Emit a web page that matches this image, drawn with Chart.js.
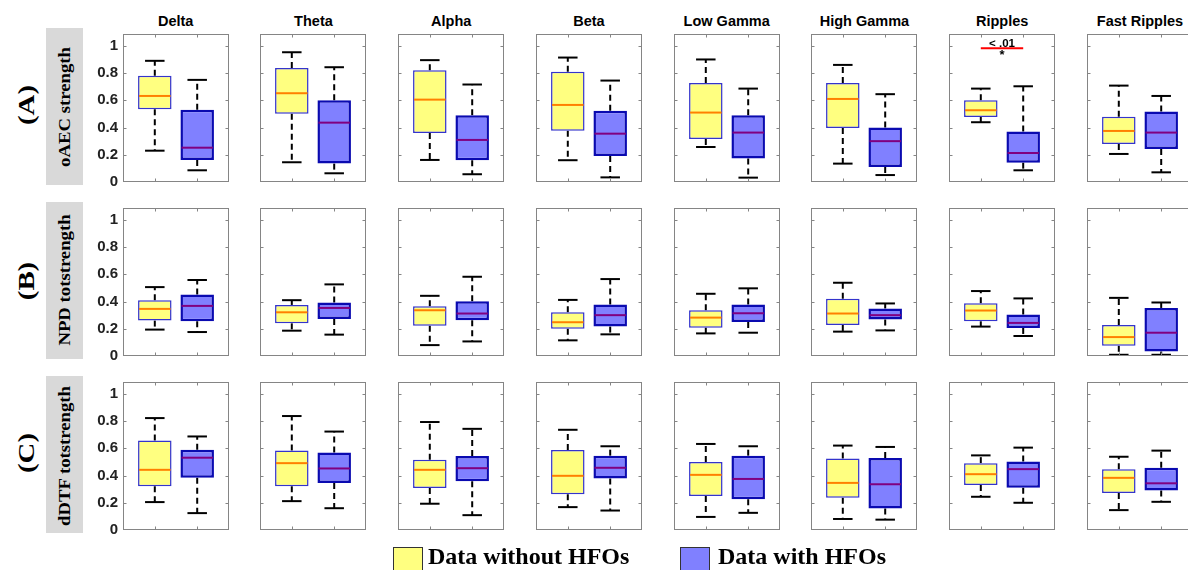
<!DOCTYPE html>
<html>
<head>
<meta charset="utf-8">
<script src="https://cdn.jsdelivr.net/npm/chart.js@4/dist/chart.umd.min.js"></script>
<style>
html,body{margin:0;padding:0;background:#fff;width:1188px;height:570px;overflow:hidden;position:relative}
canvas{position:absolute}
.title{position:absolute;font:bold 14.5px "Liberation Sans",Arial,sans-serif;color:#000;transform:translate(-50%,-50%);white-space:nowrap}
.rowbox{position:absolute;background:#d9d9d9}
.rot{position:absolute;white-space:nowrap;font-family:"Liberation Serif","Times New Roman",serif;font-weight:bold;color:#000;line-height:1.1}
.legsq{position:absolute;width:30px;height:30px;box-sizing:border-box;border:1px solid #333}
.legtx{position:absolute;font:bold 24px/24px "Liberation Serif","Times New Roman",serif;color:#000;white-space:nowrap}
</style>
</head>
<body>
<script>
// ---------------- data ----------------
const bands = ['Delta','Theta','Alpha','Beta','Low Gamma','High Gamma','Ripples','Fast Ripples'];
const measures = ['oAEC strength','NPD totstrength','dDTF totstrength'];
const rowTags = ['(A)','(B)','(C)'];
const groups = ['Data without HFOs','Data with HFOs'];
const groupX = [1, 2];
const yTicks = [0, 0.2, 0.4, 0.6, 0.8, 1];
const yTickLabels = ['0','0.2','0.4','0.6','0.8','1'];

// five-number summaries per band: [lower whisker, Q1, median, Q3, upper whisker]
const oaecWithout = [[0.23,0.534,0.632,0.78,0.89],[0.145,0.502,0.652,0.838,0.953],[0.162,0.36,0.605,0.821,0.895],[0.16,0.377,0.566,0.809,0.914],[0.257,0.316,0.51,0.728,0.90],[0.135,0.397,0.61,0.728,0.86],[0.439,0.478,0.527,0.60,0.686],[0.206,0.279,0.375,0.48,0.708]];
const oaecWith    = [[0.086,0.162,0.252,0.53,0.75],[0.064,0.135,0.436,0.60,0.843],[0.057,0.16,0.309,0.49,0.716],[0.034,0.191,0.355,0.524,0.745],[0.032,0.172,0.363,0.49,0.686],[0.051,0.11,0.30,0.40,0.645],[0.086,0.142,0.213,0.37,0.703],[0.071,0.243,0.363,0.517,0.632]];
const npdWithout  = [[0.194,0.26,0.346,0.41,0.506],[0.186,0.24,0.321,0.375,0.41],[0.08,0.223,0.336,0.366,0.442],[0.115,0.201,0.248,0.321,0.412],[0.166,0.208,0.282,0.336,0.457],[0.179,0.228,0.312,0.42,0.538],[0.216,0.255,0.334,0.388,0.477],[0.009,0.075,0.139,0.228,0.427]];
const npdWith     = [[0.176,0.255,0.368,0.452,0.558],[0.157,0.272,0.353,0.393,0.526],[0.107,0.262,0.312,0.403,0.582],[0.159,0.216,0.30,0.378,0.565],[0.171,0.25,0.314,0.378,0.497],[0.188,0.268,0.30,0.349,0.386],[0.147,0.206,0.243,0.305,0.423],[0.009,0.033,0.171,0.353,0.393]];
const ddtfWithout = [[0.205,0.321,0.442,0.657,0.822],[0.212,0.321,0.491,0.583,0.837],[0.193,0.309,0.442,0.516,0.793],[0.168,0.262,0.398,0.588,0.736],[0.096,0.25,0.405,0.499,0.632],[0.081,0.237,0.346,0.526,0.62],[0.244,0.331,0.41,0.491,0.548],[0.146,0.272,0.383,0.447,0.538]];
const ddtfWith    = [[0.124,0.383,0.531,0.59,0.687],[0.16,0.346,0.452,0.57,0.723],[0.109,0.358,0.454,0.543,0.743],[0.143,0.378,0.457,0.546,0.615],[0.126,0.225,0.375,0.546,0.615],[0.076,0.158,0.336,0.528,0.61],[0.2,0.311,0.447,0.504,0.605],[0.207,0.291,0.343,0.457,0.583]];

// significance markers: row, band index, bracket level, labels
const significance = [{row:0, band:6, level:0.983, label:'< .01', mark:'*'}];

// ---------------- layout / style ----------------
const rowData = [[oaecWithout, oaecWith],[npdWithout, npdWith],[ddtfWithout, ddtfWith]];
const COL_LEFT = bands.map((b,i) => 122.7 + i*137.75);
const ROW_TOP = [34.3, 208.3, 382.3];
const PANEL_W = 106, PANEL_H = 147.7, Y_MAX = 1.087;
const FILL = ['#FFFF80','#8080FF'];
const EDGE = ['#3434cc','#0a0ab0'];
const EDGE_W = [1.5, 2.5];
const MEDIAN = ['#FF8000','#800080'];
const CAP_HALF = 0.23;
const FRAME = '#858585';

function line(ctx,x1,y1,x2,y2){ctx.beginPath();ctx.moveTo(x1,y1);ctx.lineTo(x2,y2);ctx.stroke();}

const boxPlugin = {
  id:'boxParts',
  beforeDatasetsDraw(chart){
    const {ctx, scales:{x,y}} = chart;
    const ds = chart.data.datasets[0];
    ctx.save();
    ctx.strokeStyle = '#000'; ctx.lineWidth = 2;
    const capHalf = x.getPixelForValue(1+CAP_HALF) - x.getPixelForValue(1);
    ds.stats.forEach((s,i) => {
      const cx = x.getPixelForValue(ds.data[i].x);
      const yl = y.getPixelForValue(s[0]), y1 = y.getPixelForValue(s[1]);
      const y3 = y.getPixelForValue(s[3]), yu = y.getPixelForValue(s[4]);
      ctx.setLineDash([6,4]);
      line(ctx,cx,y3,cx,yu);
      line(ctx,cx,y1,cx,yl);
      ctx.setLineDash([]);
      line(ctx,cx-capHalf,yu,cx+capHalf,yu);
      line(ctx,cx-capHalf,yl,cx+capHalf,yl);
    });
    ctx.restore();
  },
  afterDatasetsDraw(chart){
    const {ctx, scales:{y}} = chart;
    const ds = chart.data.datasets[0];
    const meta = chart.getDatasetMeta(0);
    ctx.save();
    ctx.lineWidth = 2;
    ds.stats.forEach((s,i) => {
      const {x:bx, width} = meta.data[i].getProps(['x','width'], true);
      ctx.strokeStyle = MEDIAN[i];
      const ym = y.getPixelForValue(s[2]);
      line(ctx,bx-width/2+1,ym,bx+width/2-1,ym);
    });
    ctx.restore();
  },
  afterDraw(chart){
    const {ctx, chartArea:a, scales:{x,y}} = chart;
    ctx.save();
    const L = Math.round(a.left)+0.5, R = Math.round(a.right)-0.5;
    const T = Math.round(a.top)+0.5, B = Math.round(a.bottom)-0.5;
    ctx.strokeStyle = FRAME; ctx.lineWidth = 1;
    ctx.strokeRect(L,T,R-L,B-T);
    yTicks.forEach(v => {
      if (v === 0) return;
      const py = Math.round(y.getPixelForValue(v))+0.5;
      line(ctx,L,py,L+3,py); line(ctx,R,py,R-3,py);
    });
    groupX.forEach(v => {
      const px = Math.round(x.getPixelForValue(v))+0.5;
      line(ctx,px,B,px,B-3); line(ctx,px,T,px,T+3);
    });
    const sig = chart.options.plugins.boxParts && chart.options.plugins.boxParts.sig;
    if (sig) {
      const x1 = x.getPixelForValue(groupX[0]), x2 = x.getPixelForValue(groupX[1]);
      const py = y.getPixelForValue(sig.level);
      ctx.strokeStyle = '#FF0000'; ctx.lineWidth = 2;
      line(ctx,x1,py,x2,py);
      ctx.fillStyle = '#000';
      ctx.textAlign = 'center'; ctx.textBaseline = 'alphabetic';
      ctx.font = 'bold 11.5px "Liberation Sans", Arial, sans-serif';
      ctx.fillText(sig.label,(x1+x2)/2,py-1.5);
      ctx.font = 'bold 13px "Liberation Sans", Arial, sans-serif';
      ctx.fillText(sig.mark,(x1+x2)/2,py+11);
    }
    ctx.restore();
  }
};

function makePanel(r, c){
  const stats = [rowData[r][0][c], rowData[r][1][c]];
  const first = c === 0;
  const yAxisW = first ? 46 : 0;
  const pad = {left:2,right:2,top:14,bottom:14};
  const cw = Math.round(pad.left + yAxisW + PANEL_W + pad.right);
  const ch = Math.round(pad.top + PANEL_H + pad.bottom);
  const canvas = document.createElement('canvas');
  canvas.width = cw; canvas.height = ch;
  canvas.style.width = cw+'px'; canvas.style.height = ch+'px';
  document.body.appendChild(canvas);
  const sig = significance.find(s => s.row === r && s.band === c) || null;
  const chart = new Chart(canvas, {
    type:'bar',
    data:{datasets:[{
      label: measures[r]+' – '+bands[c],
      data: groupX.map((gx,i) => ({x:gx, y:[stats[i][1], stats[i][3]]})),
      stats: stats,
      backgroundColor: FILL,
      borderColor: EDGE,
      borderWidth: EDGE_W,
      borderSkipped: false,
      barPercentage: 0.79,
      categoryPercentage: 1
    }]},
    options:{
      responsive:false, animation:false, devicePixelRatio:1,
      layout:{padding:pad},
      plugins:{legend:{display:false}, tooltip:{enabled:false}, boxParts:{sig}},
      scales:{
        x:{type:'linear', min:0.25, max:2.75, offset:false, display:false,
           afterBuildTicks: s => { s.ticks = groupX.map(v => ({value:v})); }},
        y:{type:'linear', min:0, max:Y_MAX, display:first,
           grid:{display:false, drawTicks:false}, border:{display:false},
           afterBuildTicks: s => { s.ticks = yTicks.map(v => ({value:v})); },
           afterFit: s => { s.width = yAxisW; },
           ticks:{padding:5, color:'#222',
                  font:{family:'"Liberation Sans", Arial, sans-serif', size:15, weight:'bold'},
                  callback: (v) => yTickLabels[yTicks.indexOf(v)] ?? String(v)}}
      }
    },
    plugins:[boxPlugin]
  });
  // make the plotting area exactly the panel size
  let ca = chart.chartArea;
  const dh = Math.round(PANEL_H - (ca.bottom - ca.top));
  const dw = Math.round(PANEL_W - (ca.right - ca.left));
  if (dh !== 0 || dw !== 0) {
    chart.resize(cw + dw, ch + dh);
    ca = chart.chartArea;
  }
  canvas.style.left = (COL_LEFT[c]-ca.left)+'px';
  canvas.style.top = (ROW_TOP[r]-ca.top)+'px';
}

function addDiv(cls, text, css){
  const d = document.createElement('div');
  d.className = cls; d.textContent = text;
  Object.assign(d.style, css);
  document.body.appendChild(d);
  return d;
}

// column titles
bands.forEach((b,c) => addDiv('title', b, {left:(COL_LEFT[c]+PANEL_W/2)+'px', top:'20.5px'}));

// row labels
const tagY = [105, 280.8, 453.3];
const labY = [106.7, 280, 455.8];
rowTags.forEach((t,r) => {
  addDiv('rowbox','',{left:'45.7px', top:(ROW_TOP[r]-6.3)+'px', width:'37px', height:'157px'});
  addDiv('rot', t, {left:'25.8px', top:tagY[r]+'px', fontSize:'24px',
    transform:'translate(-50%,-50%) rotate(-90deg) scale(1.2,1)'});
  addDiv('rot', measures[r], {left:'65px', top:labY[r]+'px', fontSize:'16px',
    transform:'translate(-50%,-50%) rotate(-90deg) scale(1.17,1)'});
});

// panels
for (let r = 0; r < 3; r++) for (let c = 0; c < bands.length; c++) makePanel(r, c);

// legend
const legSq = [392.7, 680];
const legTx = [428, 718];
groups.forEach((g,i) => {
  addDiv('legsq','',{left:legSq[i]+'px', top:'546.7px', background:FILL[i]});
  addDiv('legtx', g, {left:legTx[i]+'px', top:'544.2px'});
});
</script>
</body>
</html>
